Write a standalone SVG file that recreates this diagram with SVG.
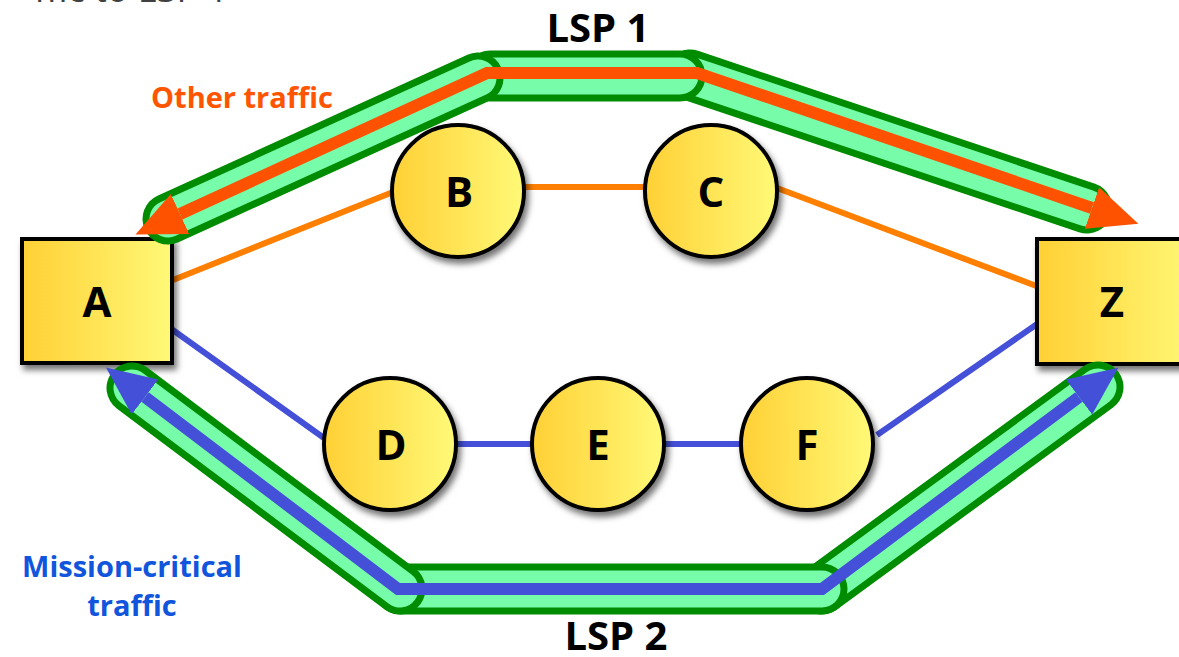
<svg xmlns="http://www.w3.org/2000/svg" width="1179" height="657" viewBox="0 0 1179 657">
<defs>
<linearGradient id="gold" x1="0" y1="0" x2="1" y2="0">
<stop offset="0" stop-color="#ffd035"/>
<stop offset="1" stop-color="#fff977"/>
</linearGradient>
<filter id="shadow" x="-20%" y="-20%" width="150%" height="150%">
<feDropShadow dx="3" dy="5" stdDeviation="3" flood-color="#000" flood-opacity="0.55"/>
</filter>
<marker id="arrOrange" markerUnits="userSpaceOnUse" markerWidth="52" markerHeight="46" refX="0" refY="22" orient="auto-start-reverse" viewBox="0 0 52 44">
<path d="M0,0 L49,22 L0,44 z" fill="#ff5200"/>
</marker>
<marker id="arrBlue" markerUnits="userSpaceOnUse" markerWidth="52" markerHeight="46" refX="0" refY="22" orient="auto-start-reverse" viewBox="0 0 52 44">
<path d="M0,0 L49,22 L0,44 z" fill="#4550d8"/>
</marker>
</defs>
<style>
.node{fill:url(#gold);stroke:#000;stroke-width:4;filter:url(#shadow)}
.lbl{font-family:"Open Sans","DejaVu Sans",sans-serif;font-weight:700;font-size:42px;fill:#000;text-anchor:middle}
.lsp{font-family:"Open Sans","DejaVu Sans",sans-serif;font-weight:700;font-size:40px;fill:#000;text-anchor:middle}
.link-o{stroke:#ff7f00;stroke-width:6;fill:none}
.link-b{stroke:#4550d8;stroke-width:6;fill:none}
.tube-out{stroke:#008c00;stroke-width:51;stroke-linecap:round;fill:none}
.tube-in{stroke:#77fcaa;stroke-width:37;stroke-linecap:round;fill:none}
.trf-o{stroke:#ff5200;stroke-width:12;fill:none;stroke-linejoin:miter}
.trf-b{stroke:#4550d8;stroke-width:12;fill:none;stroke-linejoin:miter}
.note{font-family:"Open Sans","DejaVu Sans",sans-serif;font-weight:700;font-size:29px;text-anchor:middle}
</style>
<rect width="1179" height="657" fill="#fff"/>
<text x="228" y="2" text-anchor="end" font-family="'Open Sans','DejaVu Sans',sans-serif" font-size="36" fill="#404040">ffic to LSP 1</text>

<g id="connectors">
<line class="link-o" x1="173" y1="280" x2="393" y2="192"/>
<line class="link-o" x1="524" y1="187" x2="645" y2="187"/>
<line class="link-o" x1="777" y1="188" x2="1039" y2="287"/>
<line class="link-b" x1="170" y1="328" x2="324" y2="438"/>
<line class="link-b" x1="456" y1="444" x2="533" y2="444"/>
<line class="link-b" x1="663" y1="444" x2="741" y2="444"/>
<line class="link-b" x1="877" y1="435" x2="1040" y2="322"/>
</g>

<g id="node-A"><rect class="node" x="22" y="239" width="150" height="124"/><text class="lbl" x="97" y="317">A</text></g>
<g id="node-Z"><rect class="node" x="1037" y="239" width="160" height="125"/><text class="lbl" x="1112" y="317">Z</text></g>
<g id="node-B"><circle class="node" cx="458" cy="191" r="66"/><text class="lbl" x="459" y="207">B</text></g>
<g id="node-C"><circle class="node" cx="711" cy="191" r="66"/><text class="lbl" x="711" y="207">C</text></g>
<g id="node-D"><circle class="node" cx="390" cy="444" r="66"/><text class="lbl" x="391" y="460">D</text></g>
<g id="node-E"><circle class="node" cx="598" cy="444" r="66"/><text class="lbl" x="598" y="460">E</text></g>
<g id="node-F"><circle class="node" cx="807" cy="444" r="66"/><text class="lbl" x="807" y="460">F</text></g>

<g id="lsp-paths">
<g id="lsp1">
<line class="tube-out" x1="690" y1="75" x2="1087" y2="208"/><line class="tube-in" x1="690" y1="75" x2="1087" y2="208"/>
<line class="tube-out" x1="490" y1="76" x2="680" y2="76"/><line class="tube-in" x1="490" y1="76" x2="680" y2="76"/>
<line class="tube-out" x1="168" y1="219" x2="478" y2="78"/><line class="tube-in" x1="168" y1="219" x2="478" y2="78"/>
<polyline class="trf-o" points="180,214 487,73 697,73 1092,208" marker-start="url(#arrOrange)" marker-end="url(#arrOrange)"/>
</g>
<g id="lsp2">
<line class="tube-out" x1="822" y1="589" x2="1098" y2="387"/><line class="tube-in" x1="822" y1="589" x2="1098" y2="387"/>
<line class="tube-out" x1="400" y1="589" x2="822" y2="589"/><line class="tube-in" x1="400" y1="589" x2="822" y2="589"/>
<line class="tube-out" x1="132" y1="388" x2="400" y2="589"/><line class="tube-in" x1="132" y1="388" x2="400" y2="589"/>
<polyline class="trf-b" points="145,397 398,589 822,589 1079,397" marker-start="url(#arrBlue)" marker-end="url(#arrBlue)"/>
</g>
</g>

<text class="lsp" x="598" y="42">LSP 1</text>
<text class="lsp" x="616" y="650">LSP 2</text>
<text class="note" x="242" y="108" fill="#ff5500">Other traffic</text>
<text class="note" x="132" y="577" fill="#1155dd">Mission-critical</text>
<text class="note" x="132" y="616" fill="#1155dd">traffic</text>
</svg>
